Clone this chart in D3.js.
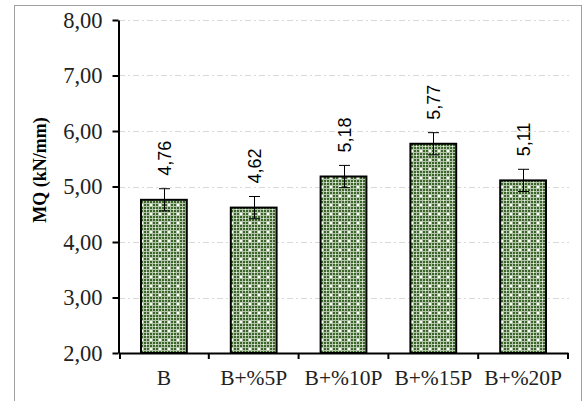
<!DOCTYPE html>
<html><head><meta charset="utf-8">
<script src="https://cdn.jsdelivr.net/npm/d3@7"></script>
<style>html,body{margin:0;padding:0;background:#fff;}svg{display:block;}
.serif{font-family:'Liberation Serif','Times New Roman',serif;}
.sans{font-family:'Liberation Sans',Arial,sans-serif;}
</style>
</head><body>
<svg id="c" width="584" height="401"></svg>
<script>
const categories = ["B", "B+%5P", "B+%10P", "B+%15P", "B+%20P"];
const values = [4.76, 4.62, 5.18, 5.77, 5.11];
const errors = [0.20, 0.20, 0.20, 0.20, 0.20];
const yTicks = [2, 3, 4, 5, 6, 7, 8];
const yTitle = "MQ (kN/mm)";

const svg = d3.select("#c");
const fmt = v => d3.format(".2f")(v).replace(".", ",");

// pattern
const defs = svg.append("defs");
const pat = defs.append("pattern").attr("id","pt").attr("patternUnits","userSpaceOnUse")
  .attr("width",9).attr("height",9);
pat.append("rect").attr("width",9).attr("height",9).attr("fill","#b4c7aa");
for (let i=0;i<9;i+=3) for (let j=0;j<9;j+=3) {
  if (i===6 && j===6) continue;
  pat.append("rect").attr("x",i).attr("y",j).attr("width",2).attr("height",2).attr("fill","#3a6429");
}
pat.append("rect").attr("x",6).attr("y",6).attr("width",2).attr("height",2).attr("fill","#ffffff");
pat.append("rect").attr("x",2).attr("y",2).attr("width",1).attr("height",1).attr("fill","#f4f8f2");

// border
svg.append("rect").attr("x",14.5).attr("y",5.5).attr("width",567).attr("height",400)
  .attr("fill","none").attr("stroke","#a0a0a0").attr("stroke-width",1);

const y = d3.scaleLinear().domain([2,8]).range([353,20]);
const x = d3.scaleBand().domain(categories).range([119,568]).padding(0);
const bw = x.bandwidth()*0.51;

// gridlines
svg.append("g").selectAll("line").data(yTicks.filter(t=>t>2)).join("line")
  .attr("x1",119).attr("x2",569).attr("y1",d=>Math.round(y(d))+0.5).attr("y2",d=>Math.round(y(d))+0.5)
  .attr("stroke","#d9d9d9").attr("stroke-width",1).attr("stroke-dasharray","6,3,2,3");

// bars
svg.append("g").selectAll("rect").data(values).join("rect")
  .attr("x",(d,i)=>x(categories[i])+x.bandwidth()/2-bw/2)
  .attr("y",d=>y(d)).attr("width",bw).attr("height",d=>y(2)-y(d))
  .attr("fill","url(#pt)").attr("stroke","#000").attr("stroke-width",2);

// error bars
const eg = svg.append("g").attr("stroke","#000").attr("stroke-width",1);
values.forEach((v,i)=>{
  const cx = Math.round(x(categories[i])+x.bandwidth()/2)+0.5;
  const t = y(v+errors[i]), b = y(v-errors[i]);
  eg.append("line").attr("x1",cx).attr("x2",cx).attr("y1",t).attr("y2",b);
  eg.append("line").attr("x1",cx-5.5).attr("x2",cx+5.5).attr("y1",t).attr("y2",t);
  eg.append("line").attr("x1",cx-5.5).attr("x2",cx+5.5).attr("y1",b).attr("y2",b);
});

// value labels
svg.append("g").selectAll("text").data(values).join("text")
  .attr("class","sans")
  .attr("transform",(d,i)=>{
    const cx = x(categories[i])+x.bandwidth()/2;
    return `translate(${cx+7},${y(d+errors[i])-13}) rotate(-90)`;
  })
  .attr("text-anchor","start").attr("font-size",18)
  .attr("fill","#000").text(d=>fmt(d));

// y axis
const ya = svg.append("g").attr("transform","translate(118.5,0)")
  .call(d3.axisLeft(y).tickValues(yTicks).tickSize(6).tickSizeOuter(0).tickFormat(fmt));
ya.attr("font-family",null);
ya.select(".domain").attr("stroke","#000").attr("stroke-width",2);
ya.selectAll(".tick line").attr("stroke","#000").attr("stroke-width",2);
ya.selectAll(".tick text").attr("class","serif")
  .attr("font-size",22.5).attr("fill","#222").attr("x",-16);

// x axis
const xa = svg.append("g").attr("transform","translate(0,353)")
  .call(d3.axisBottom(x).tickSize(0).tickSizeOuter(0));
xa.attr("font-family",null);
xa.select(".domain").attr("stroke","#000").attr("stroke-width",2);
xa.selectAll(".tick text").attr("class","serif")
  .attr("font-size",21.5).attr("fill","#222").attr("dy",0).attr("y",32);
svg.append("g").selectAll("line").data(categories.concat(["__end"])).join("line")
  .attr("x1",(d,i)=>119+i*x.bandwidth()+(i===0?1:0)).attr("x2",(d,i)=>119+i*x.bandwidth()+(i===0?1:0))
  .attr("y1",353).attr("y2",359).attr("stroke","#000").attr("stroke-width",2);

// y title
svg.append("text").attr("class","serif").attr("transform","translate(46,170) rotate(-90)")
  .attr("text-anchor","middle")
  .attr("font-weight","bold").attr("font-size",18).attr("fill","#000").text(yTitle);
</script>
</body></html>
